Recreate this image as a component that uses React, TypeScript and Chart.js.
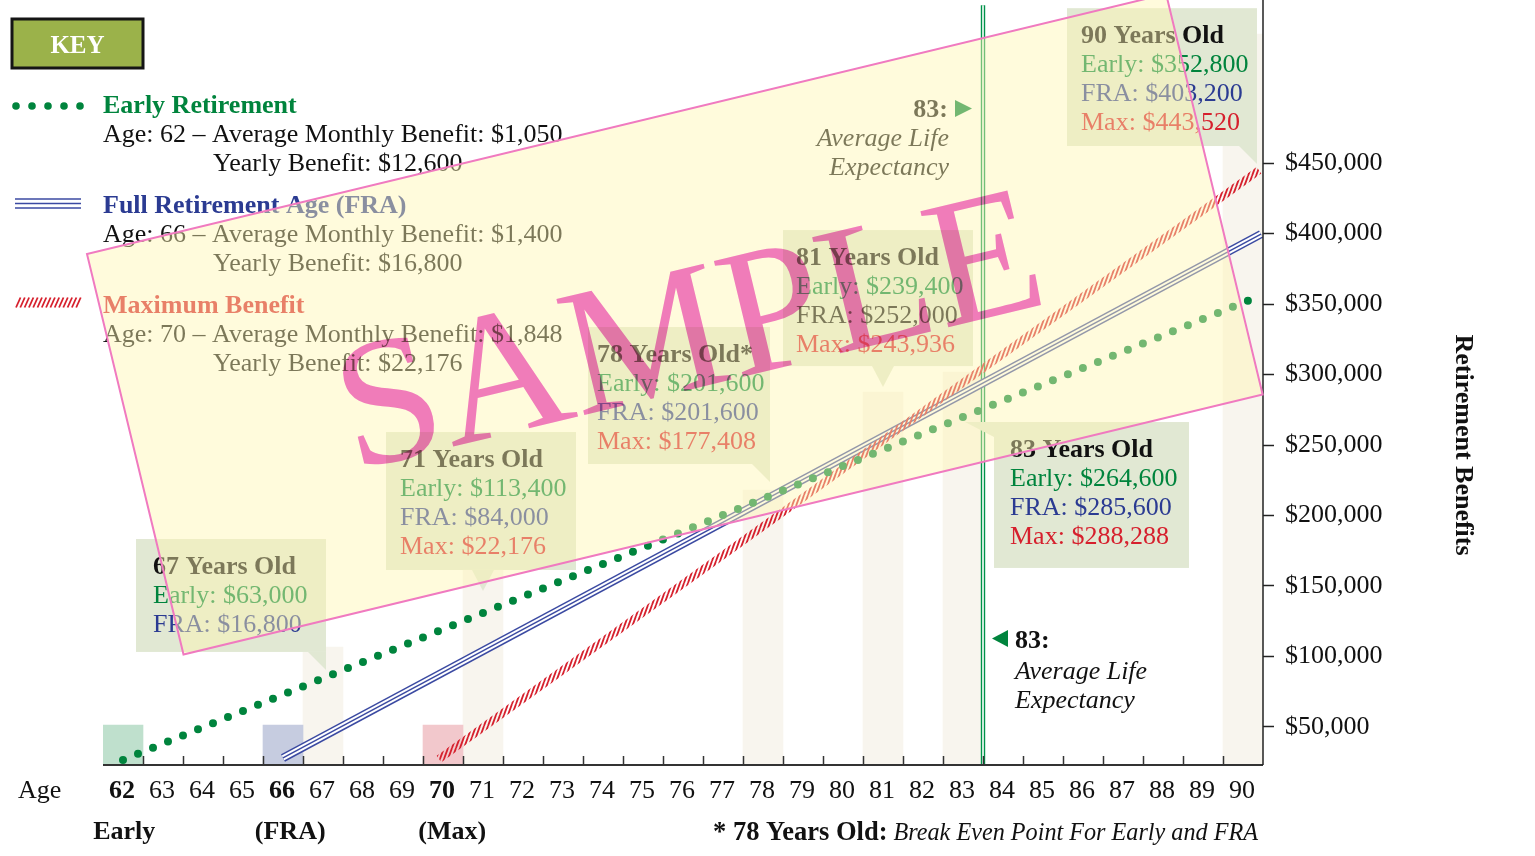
import React, { useEffect, useRef } from 'react';
import { Chart, registerables } from 'chart.js';

Chart.register(...registerables);

// ---------- data ----------
const AGES = [62, 63, 64, 65, 66, 67, 68, 69, 70, 71, 72, 73, 74, 75, 76, 77, 78, 79, 80, 81, 82, 83, 84, 85, 86, 87, 88, 89, 90];
const BOLD_AGES = [62, 66, 70];
const START_LABELS = ['Early', '(FRA)', '(Max)'];
const START_AGES = [62, 66, 70];
const START_VALUES = [51400, 51400, 51400];
const HIGHLIGHT_AGES = [67, 71, 78, 81, 83, 90];
const HIGHLIGHT_VALUES = [106700, 161350, 218100, 287600, 301800, 541500];
const EARLY_AGES = [62, 90.35];
const EARLY_VALUES = [26600, 355000];
const FRA_AGES = [66, 90.45];
const FRA_VALUES = [28000, 399600];
const MAX_AGES = [69.9, 90.4];
const MAX_VALUES = [27300, 445000];
const LIFE_EXPECTANCY_AGE = 83.5;
const LIFE_LINE_VALUES = [23000, 562000];
const Y_TICKS = [50000, 100000, 150000, 200000, 250000, 300000, 350000, 400000, 450000];

const CALLOUT_AGES = [67, 71, 78, 81, 83, 90];
const CALLOUT_TITLES = ['67 Years Old', '71 Years Old', '78 Years Old*', '81 Years Old', '83 Years Old', '90 Years Old'];
const CALLOUT_EARLY = [63000, 113400, 201600, 239400, 264600, 352800];
const CALLOUT_FRA = [16800, 84000, 201600, 252000, 285600, 403200];
const CALLOUT_MAX: (number | null)[] = [null, 22176, 177408, 243936, 288288, 443520];

const LEGEND_TITLES = ['Early Retirement', 'Full Retirement Age (FRA)', 'Maximum Benefit'];
const LEGEND_AGES = [62, 66, 70];
const LEGEND_MONTHLY = [1050, 1400, 1848];
const LEGEND_YEARLY = [12600, 16800, 22176];

// ---------- styles / layout ----------
const SERIF = '"Liberation Serif", "Times New Roman", Times, serif';
const EARLY_COLOR = '#00843d';
const FRA_COLOR = '#2b3b92';
const FRA_LINE_COLOR = '#3b4aa2';
const MAX_COLOR = '#d6202d';
const BOX_FILL = '#e1e8d3';
const BEIGE = '#f8f5ee';
const START_COLORS = ['#bfe0cd', '#c6cce0', '#f2c8cc'];
const CALLOUT_FRA_COLORS = [FRA_COLOR, FRA_COLOR, FRA_COLOR, '#111111', FRA_COLOR, FRA_COLOR];
const CALLOUT_BOXES = [
  { x0: 62.325, x1: 67.075, y0: 183300, y1: 103200, ptr: 'br', pad: 17 },
  { x0: 68.575, x1: 73.325, y0: 259200, y1: 161350, ptr: 'bc', pad: 14 },
  { x0: 73.625, x1: 78.175, y0: 333700, y1: 236500, ptr: 'br', pad: 9 },
  { x0: 78.5, x1: 83.25, y0: 402500, y1: 306000, ptr: 'bc', pad: 13 },
  { x0: 83.775, x1: 88.65, y0: 266300, y1: 162800, ptr: 'tl', pad: 16 },
  { x0: 85.6, x1: 90.35, y0: 559900, y1: 462100, ptr: 'br', pad: 14 },
];

const f = (size: number, weight = 'normal', style = 'normal') => `${style} ${weight} ${size}px ${SERIF}`;
const money = (v: number) => '$' + v.toLocaleString('en-US');
const pts = (xs: number[], ys: number[]) => xs.map((x, i) => ({ x, y: ys[i] }));

function makeHatch(target: CanvasRenderingContext2D) {
  const w = 4;
  const h = 11;
  const c = document.createElement('canvas');
  c.width = w;
  c.height = h;
  const g = c.getContext('2d')!;
  g.strokeStyle = MAX_COLOR;
  g.lineWidth = 1.8;
  g.beginPath();
  for (const dx of [-w, 0, w]) {
    g.moveTo(dx, h);
    g.lineTo(dx + w, 0);
  }
  g.stroke();
  return target.createPattern(c, 'repeat')!;
}

function drawLegend(ctx: CanvasRenderingContext2D) {
  ctx.fillStyle = '#9bb24a';
  ctx.fillRect(12, 19, 131, 49);
  ctx.strokeStyle = '#151515';
  ctx.lineWidth = 3;
  ctx.strokeRect(12, 19, 131, 49);
  ctx.fillStyle = '#ffffff';
  ctx.font = f(25, 'bold');
  ctx.textAlign = 'center';
  ctx.textBaseline = 'alphabetic';
  ctx.fillText('KEY', 77.5, 53);

  ctx.fillStyle = EARLY_COLOR;
  [16, 32, 48, 64, 80].forEach((cx) => {
    ctx.beginPath();
    ctx.arc(cx, 106, 3.8, 0, Math.PI * 2);
    ctx.fill();
  });
  ctx.strokeStyle = FRA_LINE_COLOR;
  ctx.lineWidth = 1.6;
  [199, 203.5, 208].forEach((yy) => {
    ctx.beginPath();
    ctx.moveTo(15, yy);
    ctx.lineTo(81, yy);
    ctx.stroke();
  });
  ctx.strokeStyle = MAX_COLOR;
  ctx.lineWidth = 1.8;
  for (let hx = 16; hx < 77; hx += 4.3) {
    ctx.beginPath();
    ctx.moveTo(hx, 307.5);
    ctx.lineTo(hx + 4.5, 297.5);
    ctx.stroke();
  }

  const colors = [EARLY_COLOR, FRA_COLOR, MAX_COLOR];
  ctx.textAlign = 'left';
  LEGEND_TITLES.forEach((t, i) => {
    const by = 113 + i * 100;
    ctx.fillStyle = colors[i];
    ctx.font = f(26, 'bold');
    ctx.fillText(t, 103, by);
    ctx.fillStyle = '#111111';
    ctx.font = f(26);
    ctx.fillText(`Age: ${LEGEND_AGES[i]} – Average Monthly Benefit: ${money(LEGEND_MONTHLY[i])}`, 103, by + 29);
    ctx.fillText(`Yearly Benefit: ${money(LEGEND_YEARLY[i])}`, 213, by + 58);
  });
}

const decorPlugin = {
  id: 'decor',
  afterDatasetsDraw(chart: any) {
    const ctx: CanvasRenderingContext2D = chart.ctx;
    const x = chart.scales.x;
    const y = chart.scales.y;
    const area = chart.chartArea;
    ctx.save();

    // axis lines and boundary ticks
    ctx.strokeStyle = '#333333';
    ctx.lineWidth = 1.5;
    for (let a = AGES[0]; a < AGES[AGES.length - 1]; a++) {
      const px = Math.round(x.getPixelForValue(a + 0.5)) + 0.5;
      ctx.beginPath();
      ctx.moveTo(px, area.bottom);
      ctx.lineTo(px, area.bottom - 9);
      ctx.stroke();
    }
    ctx.lineWidth = 2;
    ctx.beginPath();
    ctx.moveTo(area.left, area.bottom);
    ctx.lineTo(area.right, area.bottom);
    ctx.stroke();
    ctx.strokeStyle = '#222222';
    ctx.lineWidth = 1.5;
    ctx.beginPath();
    ctx.moveTo(area.right, area.top);
    ctx.lineTo(area.right, area.bottom);
    ctx.stroke();

    // x labels
    ctx.fillStyle = '#111111';
    ctx.textBaseline = 'alphabetic';
    ctx.textAlign = 'center';
    AGES.forEach((a) => {
      ctx.font = f(26, BOLD_AGES.includes(a) ? 'bold' : 'normal');
      ctx.fillText(String(a), x.getPixelForValue(a) - 1, 798);
    });
    ctx.textAlign = 'left';
    ctx.font = f(26);
    ctx.fillText('Age', 18, 798);
    ctx.textAlign = 'center';
    ctx.font = f(26, 'bold');
    const startOffsets = [0.03, 0.18, 0.23];
    START_LABELS.forEach((t, i) => ctx.fillText(t, x.getPixelForValue(START_AGES[i] + startOffsets[i]), 839));

    // footnote
    ctx.textAlign = 'right';
    ctx.font = f(24.2, 'normal', 'italic');
    const tail = ' Break Even Point For Early and FRA';
    const tw = ctx.measureText(tail).width;
    ctx.fillText(tail, 1258, 840);
    ctx.font = f(26.5, 'bold');
    ctx.fillText('* 78 Years Old:', 1258 - tw, 840);

    // y title
    ctx.save();
    ctx.translate(1463, 445);
    ctx.rotate(Math.PI / 2);
    ctx.textAlign = 'center';
    ctx.textBaseline = 'middle';
    ctx.font = f(26, 'bold');
    ctx.fillText('Retirement Benefits', 0, 0);
    ctx.restore();

    // callouts
    CALLOUT_AGES.forEach((age, i) => {
      const b = CALLOUT_BOXES[i];
      const L = x.getPixelForValue(b.x0);
      const R = x.getPixelForValue(b.x1);
      const T = y.getPixelForValue(b.y0);
      const B = y.getPixelForValue(b.y1);
      ctx.fillStyle = BOX_FILL;
      ctx.fillRect(L, T, R - L, B - T);
      ctx.beginPath();
      if (b.ptr === 'br') {
        ctx.moveTo(R - 18, B);
        ctx.lineTo(R, B);
        ctx.lineTo(R, B + 18);
      } else if (b.ptr === 'bc') {
        const cx = x.getPixelForValue(age);
        ctx.moveTo(cx - 11, B);
        ctx.lineTo(cx + 11, B);
        ctx.lineTo(cx, B + 21);
      } else {
        ctx.moveTo(L, T);
        ctx.lineTo(L - 29, T);
        ctx.lineTo(L, T + 15);
      }
      ctx.closePath();
      ctx.fill();

      const tx = L + b.pad;
      let ty = T + 35;
      ctx.textAlign = 'left';
      ctx.textBaseline = 'alphabetic';
      ctx.font = f(26, 'bold');
      ctx.fillStyle = '#111111';
      ctx.fillText(CALLOUT_TITLES[i], tx, ty);
      ctx.font = f(26);
      ty += 29;
      ctx.fillStyle = EARLY_COLOR;
      ctx.fillText(`Early: ${money(CALLOUT_EARLY[i])}`, tx, ty);
      ty += 29;
      ctx.fillStyle = CALLOUT_FRA_COLORS[i];
      ctx.fillText(`FRA: ${money(CALLOUT_FRA[i])}`, tx, ty);
      const mx = CALLOUT_MAX[i];
      if (mx !== null) {
        ty += 29;
        ctx.fillStyle = MAX_COLOR;
        ctx.fillText(`Max: ${money(mx)}`, tx, ty);
      }
    });

    // life expectancy notes
    const lx = x.getPixelForValue(LIFE_EXPECTANCY_AGE);
    ctx.fillStyle = EARLY_COLOR;
    ctx.beginPath();
    ctx.moveTo(lx - 28, 100);
    ctx.lineTo(lx - 28, 117);
    ctx.lineTo(lx - 11, 108.5);
    ctx.closePath();
    ctx.fill();
    ctx.beginPath();
    ctx.moveTo(lx + 9, 638.5);
    ctx.lineTo(lx + 25, 630);
    ctx.lineTo(lx + 25, 647);
    ctx.closePath();
    ctx.fill();
    ctx.fillStyle = '#111111';
    ctx.textAlign = 'right';
    ctx.font = f(26, 'bold');
    ctx.fillText('83:', lx - 35, 117);
    ctx.font = f(26, 'normal', 'italic');
    ctx.fillText('Average Life', lx - 34, 146);
    ctx.fillText('Expectancy', lx - 34, 175);
    ctx.textAlign = 'left';
    ctx.font = f(26, 'bold');
    ctx.fillText('83:', lx + 32, 648);
    ctx.font = f(26, 'normal', 'italic');
    ctx.fillText('Average Life', lx + 32, 679);
    ctx.fillText('Expectancy', lx + 32, 708);

    drawLegend(ctx);
    ctx.restore();
  },
  afterDraw(chart: any) {
    const ctx: CanvasRenderingContext2D = chart.ctx;
    ctx.save();
    ctx.translate(87, 254);
    ctx.rotate(Math.atan2(-260, 1079));
    ctx.fillStyle = 'rgba(255,246,178,0.45)';
    ctx.fillRect(0, 0, 1110, 412);
    ctx.strokeStyle = '#f07ac0';
    ctx.lineWidth = 2;
    ctx.strokeRect(0, 0, 1110, 412);
    ctx.globalCompositeOperation = 'multiply';
    ctx.fillStyle = 'rgb(240,126,215)';
    ctx.font = f(182);
    ctx.textAlign = 'center';
    ctx.textBaseline = 'alphabetic';
    ctx.fillText('SAMPLE', 567, 273);
    ctx.restore();
  },
};

export default function App() {
  const ref = useRef<HTMLCanvasElement>(null);
  useEffect(() => {
    const canvas = ref.current!;
    const c2d = canvas.getContext('2d')!;
    const hatch = makeHatch(c2d);
    const lineBase = { type: 'line' as const, pointRadius: 0, tension: 0, fill: false };
    const chart = new Chart(canvas, {
      type: 'bar',
      data: {
        datasets: [
          { ...lineBase, label: 'Early', order: 0, data: pts(EARLY_AGES, EARLY_VALUES), borderColor: EARLY_COLOR, borderWidth: 8, borderDash: [0, 16.2], borderCapStyle: 'round' },
          { ...lineBase, label: 'Max', order: 1, data: pts(MAX_AGES, MAX_VALUES), borderColor: hatch as any, borderWidth: 8, borderCapStyle: 'butt' },
          { ...lineBase, label: 'FRA inner', order: 2, data: pts(FRA_AGES, FRA_VALUES), borderColor: FRA_LINE_COLOR, borderWidth: 1.5 },
          { ...lineBase, label: 'FRA gap', order: 3, data: pts(FRA_AGES, FRA_VALUES), borderColor: '#ffffff', borderWidth: 5.4 },
          { ...lineBase, label: 'FRA outer', order: 4, data: pts(FRA_AGES, FRA_VALUES), borderColor: FRA_LINE_COLOR, borderWidth: 8.4 },
          { ...lineBase, label: 'Life gap', order: 5, data: pts([LIFE_EXPECTANCY_AGE, LIFE_EXPECTANCY_AGE], LIFE_LINE_VALUES), borderColor: '#ffffff', borderWidth: 1.6 },
          { ...lineBase, label: 'Life', order: 6, data: pts([LIFE_EXPECTANCY_AGE, LIFE_EXPECTANCY_AGE], LIFE_LINE_VALUES), borderColor: '#00924a', borderWidth: 4.4 },
          { type: 'bar', label: 'Start', order: 7, data: pts(START_AGES, START_VALUES), backgroundColor: START_COLORS, borderWidth: 0, grouped: false, barPercentage: 1, categoryPercentage: 1 },
          { type: 'bar', label: 'Highlight', order: 8, data: pts(HIGHLIGHT_AGES, HIGHLIGHT_VALUES), backgroundColor: BEIGE, borderWidth: 0, grouped: false, barPercentage: 1, categoryPercentage: 1 },
        ] as any,
      },
      options: {
        animation: false,
        responsive: false,
        events: [],
        layout: { padding: { left: 103, top: 0, right: 0, bottom: 0 } },
        plugins: { legend: { display: false }, tooltip: { enabled: false } },
        scales: {
          x: {
            type: 'linear',
            offset: false,
            min: 61.5,
            max: 90.5,
            afterBuildTicks: (s: any) => { s.ticks = AGES.map((v) => ({ value: v })); },
            afterFit: (s: any) => { s.height = 91; s.paddingLeft = 0; s.paddingRight = 0; },
            grid: { display: false, offset: false },
            border: { display: false },
            ticks: { display: false },
          },
          y: {
            type: 'linear',
            position: 'right',
            min: 23000,
            max: 565700,
            afterBuildTicks: (s: any) => { s.ticks = Y_TICKS.map((v) => ({ value: v })); },
            afterFit: (s: any) => { s.width = 272; s.paddingTop = 0; s.paddingBottom = 0; },
            grid: { drawOnChartArea: false, drawTicks: true, tickLength: 11, color: '#222222', tickColor: '#222222', tickWidth: 1.5 },
            border: { display: false },
            ticks: {
              padding: 11,
              color: '#111111',
              font: { family: SERIF, size: 26 },
              callback: (v: any) => money(Number(v)),
            },
          },
        },
      } as any,
      plugins: [decorPlugin],
    });
    return () => chart.destroy();
  }, []);
  return (
    <div style={{ position: 'absolute', left: 0, top: 0, width: 1535, height: 856, background: '#ffffff' }}>
      <canvas ref={ref} width={1535} height={856} style={{ display: 'block' }} />
    </div>
  );
}
